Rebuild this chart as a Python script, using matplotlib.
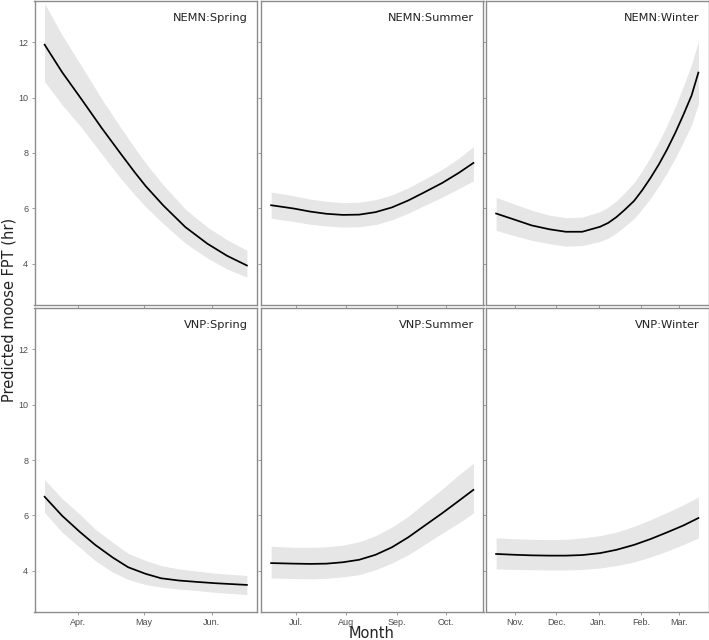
import numpy as np
import matplotlib
matplotlib.use("Agg")
import matplotlib.pyplot as plt

# ---------------- data ----------------
sites = ["NEMN", "VNP"]
seasons = ["Spring", "Summer", "Winter"]

spring_dates_nemn = ["2015-03-17", "2015-03-25", "2015-04-03", "2015-04-12", "2015-04-20",
                     "2015-04-27", "2015-05-02", "2015-05-10", "2015-05-20", "2015-05-30",
                     "2015-06-08", "2015-06-17"]
nemn_spring_fit = [11.92, 10.92, 9.92, 8.90, 8.04, 7.30, 6.80, 6.10, 5.32, 4.72, 4.28, 3.93]
nemn_spring_hi = [13.41, 12.26, 11.12, 9.95, 8.99, 8.18, 7.63, 6.84, 5.97, 5.32, 4.86, 4.48]
nemn_spring_lo = [10.58, 9.74, 8.90, 7.96, 7.14, 6.49, 6.05, 5.44, 4.74, 4.20, 3.80, 3.51]

spring_dates_vnp = ["2015-03-17", "2015-03-25", "2015-04-02", "2015-04-09", "2015-04-17",
                    "2015-04-24", "2015-05-02", "2015-05-09", "2015-05-17", "2015-05-25",
                    "2015-06-03", "2015-06-17"]
vnp_spring_fit = [6.67, 5.98, 5.40, 4.93, 4.47, 4.12, 3.88, 3.72, 3.64, 3.59, 3.54, 3.48]
vnp_spring_hi = [7.29, 6.60, 6.04, 5.50, 5.02, 4.62, 4.36, 4.18, 4.06, 3.98, 3.90, 3.82]
vnp_spring_lo = [6.10, 5.38, 4.84, 4.36, 3.94, 3.68, 3.49, 3.40, 3.33, 3.28, 3.21, 3.13]

summer_dates = ["2015-06-16", "2015-06-30", "2015-07-10", "2015-07-20", "2015-07-30",
                "2015-08-09", "2015-08-19", "2015-08-29", "2015-09-08", "2015-09-18",
                "2015-09-29", "2015-10-09", "2015-10-18"]
nemn_summer_fit = [6.11, 5.99, 5.88, 5.80, 5.76, 5.77, 5.86, 6.03, 6.28, 6.58, 6.92, 7.28, 7.64]
nemn_summer_hi = [6.59, 6.45, 6.33, 6.25, 6.20, 6.22, 6.31, 6.48, 6.74, 7.05, 7.41, 7.81, 8.23]
nemn_summer_lo = [5.64, 5.52, 5.42, 5.36, 5.32, 5.33, 5.41, 5.58, 5.82, 6.10, 6.41, 6.71, 6.99]
vnp_summer_fit = [4.27, 4.25, 4.24, 4.25, 4.30, 4.39, 4.57, 4.84, 5.20, 5.62, 6.08, 6.52, 6.92]
vnp_summer_hi = [4.88, 4.84, 4.84, 4.86, 4.92, 5.04, 5.26, 5.57, 5.96, 6.44, 6.95, 7.46, 7.88]
vnp_summer_lo = [3.73, 3.71, 3.70, 3.72, 3.77, 3.85, 4.03, 4.27, 4.57, 4.94, 5.36, 5.72, 6.08]

winter_dates_nemn = ["2014-10-18", "2014-11-01", "2014-11-13", "2014-11-26", "2014-12-08",
                     "2014-12-20", "2015-01-02", "2015-01-08", "2015-01-14", "2015-01-20",
                     "2015-01-27", "2015-02-02", "2015-02-08", "2015-02-14", "2015-02-20",
                     "2015-02-26", "2015-03-04", "2015-03-10", "2015-03-15"]
nemn_winter_fit = [5.81, 5.58, 5.38, 5.24, 5.15, 5.15, 5.33, 5.47, 5.68, 5.94, 6.27, 6.66,
                   7.10, 7.58, 8.12, 8.72, 9.38, 10.08, 10.91]
nemn_winter_hi = [6.39, 6.14, 5.93, 5.75, 5.66, 5.68, 5.88, 6.04, 6.27, 6.56, 6.93, 7.37,
                  7.86, 8.40, 9.00, 9.67, 10.42, 11.20, 12.06]
nemn_winter_lo = [5.20, 5.00, 4.84, 4.72, 4.63, 4.65, 4.80, 4.92, 5.11, 5.34, 5.63, 5.98,
                  6.37, 6.80, 7.28, 7.81, 8.40, 9.02, 9.77]

winter_dates_vnp = ["2014-10-18", "2014-11-01", "2014-11-13", "2014-11-26", "2014-12-08",
                    "2014-12-20", "2015-01-02", "2015-01-14", "2015-01-27", "2015-02-08",
                    "2015-02-20", "2015-03-04", "2015-03-15"]
vnp_winter_fit = [4.60, 4.57, 4.55, 4.54, 4.54, 4.56, 4.63, 4.75, 4.93, 5.14, 5.38, 5.63, 5.90]
vnp_winter_hi = [5.18, 5.15, 5.13, 5.12, 5.13, 5.18, 5.26, 5.39, 5.60, 5.84, 6.10, 6.38, 6.66]
vnp_winter_lo = [4.06, 4.04, 4.03, 4.02, 4.02, 4.04, 4.09, 4.18, 4.31, 4.49, 4.70, 4.94, 5.18]

spring_ticks = ["2015-04-01", "2015-05-01", "2015-06-01"]
spring_labels = ["Apr.", "May", "Jun."]
summer_ticks = ["2015-07-01", "2015-08-01", "2015-09-01", "2015-10-01"]
summer_labels = ["Jul.", "Aug", "Sep.", "Oct."]
winter_ticks = ["2014-11-01", "2014-12-01", "2015-01-01", "2015-02-01", "2015-03-01"]
winter_labels = ["Nov.", "Dec.", "Jan.", "Feb.", "Mar."]

y_ticks = [4, 6, 8, 10, 12]

panels = {
    ("NEMN", "Spring"): (spring_dates_nemn, nemn_spring_fit, nemn_spring_lo, nemn_spring_hi),
    ("NEMN", "Summer"): (summer_dates, nemn_summer_fit, nemn_summer_lo, nemn_summer_hi),
    ("NEMN", "Winter"): (winter_dates_nemn, nemn_winter_fit, nemn_winter_lo, nemn_winter_hi),
    ("VNP", "Spring"): (spring_dates_vnp, vnp_spring_fit, vnp_spring_lo, vnp_spring_hi),
    ("VNP", "Summer"): (summer_dates, vnp_summer_fit, vnp_summer_lo, vnp_summer_hi),
    ("VNP", "Winter"): (winter_dates_vnp, vnp_winter_fit, vnp_winter_lo, vnp_winter_hi),
}
season_ticks = {"Spring": (spring_ticks, spring_labels),
                "Summer": (summer_ticks, summer_labels),
                "Winter": (winter_ticks, winter_labels)}

# ---------------- figure ----------------
W, H = 709, 640
fig = plt.figure(figsize=(W / 100, H / 100), dpi=100)

col_left = [34.5, 261, 486]
col_w = 222.5
row_top = [1, 308]
row_h = 304

border = "#8c8c8c"
tick_col = "#4d4d4d"

for r, site in enumerate(sites):
    for c, season in enumerate(seasons):
        ax = fig.add_axes([col_left[c] / W, 1 - (row_top[r] + row_h) / H, col_w / W, row_h / H])
        dates, fit, lo, hi = panels[(site, season)]
        x = np.array(dates, dtype="datetime64[D]")
        ax.fill_between(x, lo, hi, color="#e6e6e6", lw=0)
        ax.plot(x, fit, color="black", lw=1.25, solid_joinstyle="round")
        ax.margins(x=0.05)
        ax.set_ylim(2.5, 13.5)
        ticks, labels = season_ticks[season]
        ax.set_xticks(np.array(ticks, dtype="datetime64[D]"))
        ax.set_yticks(y_ticks)
        if r == 1:
            ax.set_xticklabels(labels)
        else:
            ax.set_xticklabels([])
        if c == 0:
            ax.set_yticklabels([str(v) for v in y_ticks])
        else:
            ax.set_yticklabels([])
        ax.tick_params(axis="both", direction="out", length=2.5, width=0.6,
                       color=border, labelsize=6.5, labelcolor=tick_col, pad=2)
        for lab in ax.get_xticklabels() + ax.get_yticklabels():
            lab.set_family("Liberation Sans")
        for sp in ax.spines.values():
            sp.set_color(border)
            sp.set_linewidth(1.0)
        ax.annotate(f"{site}:{season}", xy=(1, 1), xycoords="axes fraction",
                    xytext=(-6.5, -12), textcoords="offset points",
                    ha="right", va="center", fontsize=8.2, color="#222222",
                    family="DejaVu Sans")

fig.text(372 / W, 1 - 633 / H, "Month", ha="center", va="center",
         fontsize=10.5, color="#222222", family="DejaVu Sans")
fig.text(9 / W, 1 - 310 / H, "Predicted moose FPT (hr)", ha="center", va="center",
         rotation=90, fontsize=10.5, color="#222222", family="DejaVu Sans")

fig.savefig("out.png", dpi=100)
